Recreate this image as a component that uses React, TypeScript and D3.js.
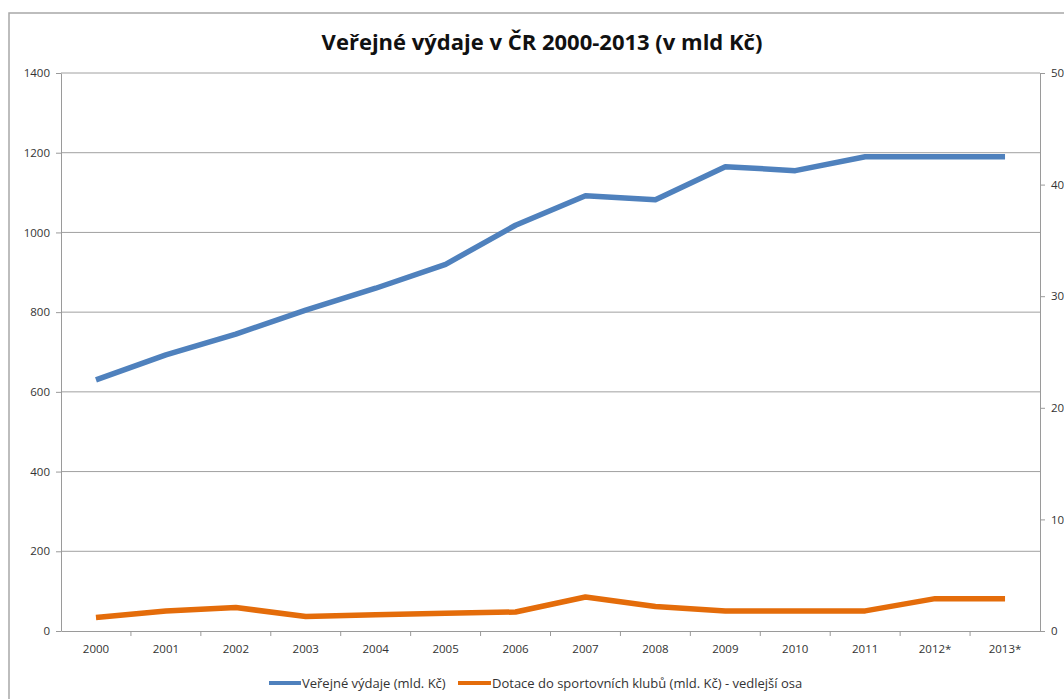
import * as d3 from "d3";
import { useRef, useEffect } from "react";

const years = ["2000", "2001", "2002", "2003", "2004", "2005", "2006", "2007", "2008", "2009", "2010", "2011", "2012*", "2013*"];
const verejneVydaje = [630, 693, 745, 805, 860, 920, 1018, 1092, 1082, 1165, 1155, 1190, 1190, 1190];
const dotaceKluby = [1.2, 1.8, 2.1, 1.3, 1.45, 1.6, 1.7, 3.05, 2.2, 1.8, 1.8, 1.8, 2.9, 2.9];
const leftTicks = [0, 200, 400, 600, 800, 1000, 1200, 1400];
const rightTicks = [0, 10, 20, 30, 40, 50];

const W = 1064;
const H = 699;
const font = "'Open Sans', 'Liberation Sans', sans-serif";

export default function App() {
  const gx = useRef<SVGGElement>(null);
  const gyL = useRef<SVGGElement>(null);
  const gyR = useRef<SVGGElement>(null);

  const left = 61, right = 1040, top = 73, bottom = 631;

  const x = d3.scaleBand().domain(years).range([left, right]);
  const yL = d3.scaleLinear().domain([0, 1400]).range([bottom, top]);
  const yR = d3.scaleLinear().domain([0, 50]).range([bottom, top]);

  const cx = (d: string) => (x(d) ?? 0) + x.bandwidth() / 2;

  const lineL = d3.line<number>().x((_, i) => cx(years[i])).y(d => yL(d));
  const lineR = d3.line<number>().x((_, i) => cx(years[i])).y(d => yR(d));

  useEffect(() => {
    const style = (g: d3.Selection<SVGGElement, unknown, null, undefined>) => {
      g.selectAll(".domain").attr("stroke", "#9a9a9a");
      g.selectAll(".tick line").attr("stroke", "#9a9a9a");
      g.selectAll("text").attr("fill", "#333").attr("font-family", font).attr("font-size", 11.5);
    };
    d3.select(gyL.current!).call(d3.axisLeft(yL).tickValues(leftTicks).tickFormat(d3.format("d")).tickSize(5).tickSizeOuter(0).tickPadding(6)).call(style);
    d3.select(gyR.current!).call(d3.axisRight(yR).tickValues(rightTicks).tickFormat(d3.format("d")).tickSize(5).tickSizeOuter(0).tickPadding(6)).call(style);
    const ax = d3.select(gx.current!).call(d3.axisBottom(x).tickSize(0).tickSizeOuter(0).tickPadding(14)).call(style);
    // dílky mezi kategoriemi
    ax.selectAll(".sep").data(years.slice(1)).join("line").attr("class", "sep")
      .attr("x1", d => x(d) ?? 0).attr("x2", d => x(d) ?? 0)
      .attr("y1", 0).attr("y2", 5).attr("stroke", "#9a9a9a");
  }, []);

  return (
    <svg width={W} height={H} style={{ position: "absolute", left: 0, top: 0, background: "#fff" }}>
      <rect x={9} y={13} width={W + 10} height={H} fill="#fff" stroke="#a8a8a8" strokeWidth={1.5} />
      <text x={542} y={50} textAnchor="middle" fontFamily={font} fontWeight="bold" fontSize={22} fill="#111">
        Veřejné výdaje v ČR 2000-2013 (v mld Kč)
      </text>

      {/* mřížka */}
      <g>
        {leftTicks.slice(1).map(t => (
          <line key={t} x1={left} x2={right} y1={yL(t)} y2={yL(t)} stroke="#a0a0a0" strokeWidth={1} />
        ))}
      </g>

      <g ref={gx} transform={`translate(0,${bottom})`} />
      <g ref={gyL} transform={`translate(${left},0)`} />
      <g ref={gyR} transform={`translate(${right},0)`} />

      <path d={lineL(verejneVydaje) ?? ""} fill="none" stroke="#4F81BD" strokeWidth={5.5} strokeLinejoin="round" />
      <path d={lineR(dotaceKluby) ?? ""} fill="none" stroke="#E46C0A" strokeWidth={5.5} strokeLinejoin="round" />

      {/* legenda */}
      <g fontFamily={font} fontSize={13} fill="#333">
        <line x1={269} x2={301} y1={683} y2={683} stroke="#4F81BD" strokeWidth={4} />
        <text x={302} y={688}>Veřejné výdaje (mld. Kč)</text>
        <line x1={458} x2={491} y1={683} y2={683} stroke="#E46C0A" strokeWidth={4} />
        <text x={492} y={688}>Dotace do sportovních klubů (mld. Kč) - vedlejší osa</text>
      </g>
    </svg>
  );
}
